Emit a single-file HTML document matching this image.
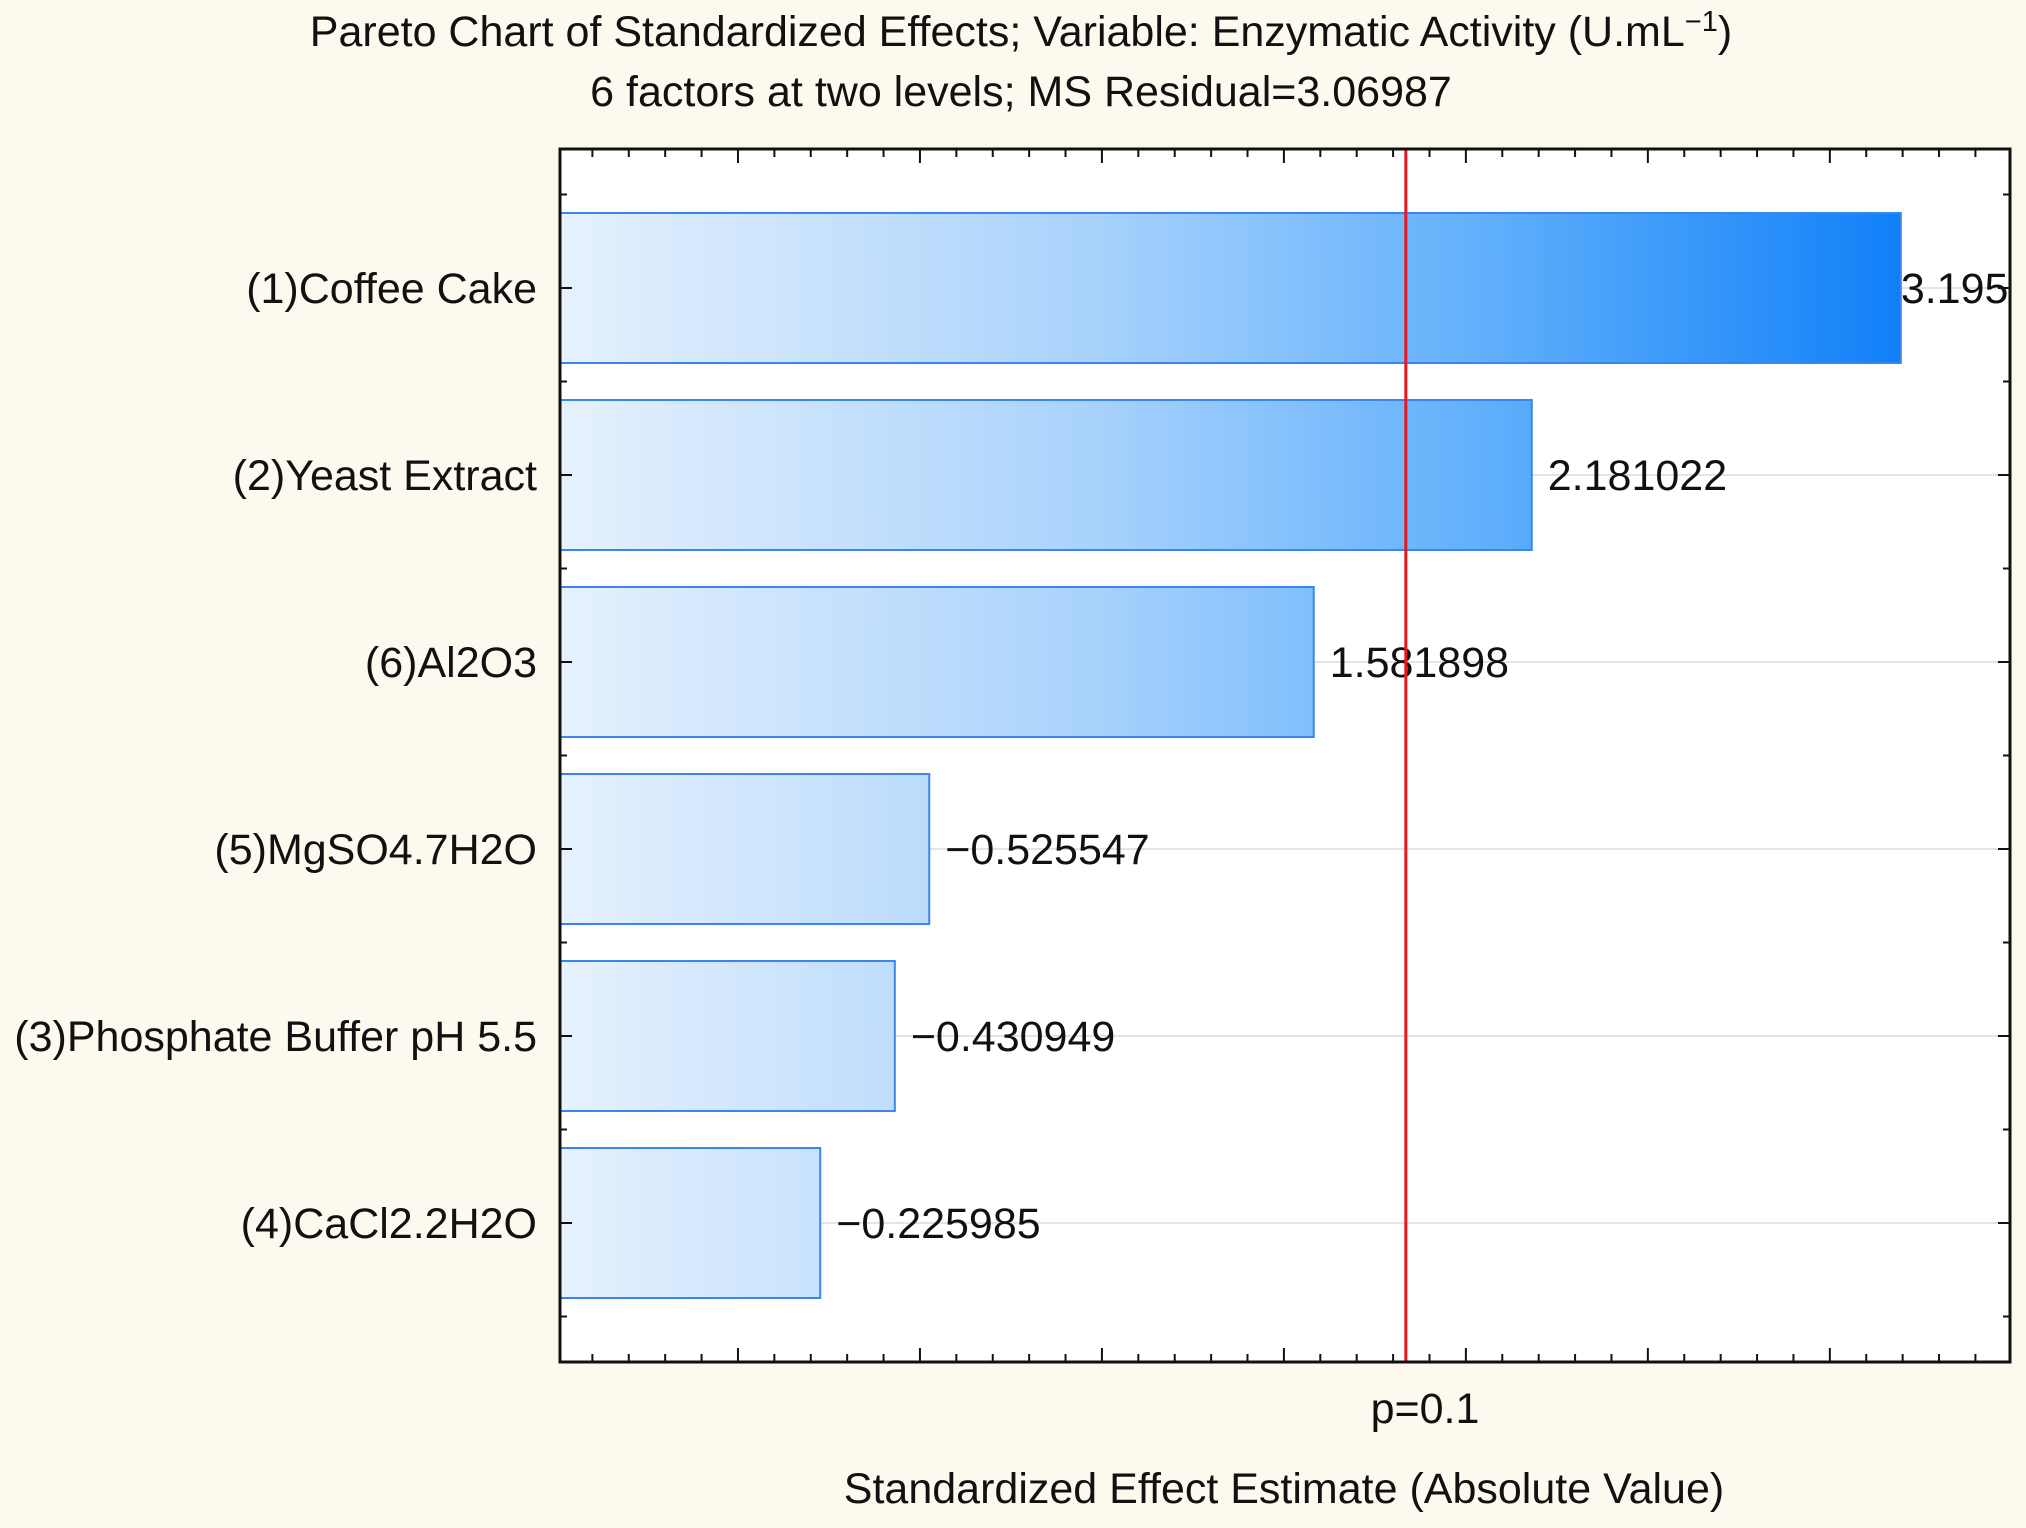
<!DOCTYPE html>
<html><head><meta charset="utf-8"><style>
html,body{margin:0;padding:0;background:#fdf9ee;}
svg{display:block;font-family:"Liberation Sans",Arial,sans-serif;}
</style></head><body>
<svg id="chart" width="2026" height="1528" viewBox="0 0 2026 1528">
<defs>
<linearGradient id="barGrad" gradientUnits="userSpaceOnUse" x1="560" y1="0" x2="1901" y2="0">
<stop offset="0" stop-color="#e6f1fd"/><stop offset="0.4" stop-color="#a8d2fc"/><stop offset="0.7" stop-color="#5eaefb"/><stop offset="1" stop-color="#1080f8"/>
</linearGradient>
</defs>
<rect x="0" y="0" width="2026" height="1528" fill="#fdf9ee"/>
<text x="1021" y="46" font-size="43" text-anchor="middle" fill="#111">Pareto Chart of Standardized Effects; Variable: Enzymatic Activity (U.mL<tspan dy="-15" font-size="29">−1</tspan><tspan dy="15">)</tspan></text>
<text x="1021" y="106" font-size="43" text-anchor="middle" fill="#111">6 factors at two levels; MS Residual=3.06987</text>
<rect x="560" y="149" width="1450" height="1213" fill="#fff"/>
<g id="grid"></g><g id="bars"></g><g id="ticks"></g>
<rect x="560" y="149" width="1450" height="1213" fill="none" stroke="#111" stroke-width="3"/>
<text x="1425" y="1423" font-size="43" text-anchor="middle" fill="#111">p=0.1</text>
<text x="1284" y="1503" font-size="43" text-anchor="middle" fill="#111">Standardized Effect Estimate (Absolute Value)</text>
</svg>
<script>
const categories=["(1)Coffee Cake","(2)Yeast Extract","(6)Al2O3","(5)MgSO4.7H2O","(3)Phosphate Buffer pH 5.5","(4)CaCl2.2H2O"];
const values=[3.195,2.181022,1.581898,-0.525547,-0.430949,-0.225985];
const valueLabels=["3.195","2.181022","1.581898","−0.525547","−0.430949","−0.225985"];
const pLine=1.835;
const xMin=-0.489,xMax=3.495;
const L=560,R=2010,T=149,B=1362;
function x(v){return L+(v-xMin)/(xMax-xMin)*(R-L);}
function yc(i){return 288+i*187;}
const NS="http://www.w3.org/2000/svg";
function mk(tag,attrs,parent){const e=document.createElementNS(NS,tag);for(const k in attrs)e.setAttribute(k,attrs[k]);parent.appendChild(e);return e;}
const grid=document.getElementById('grid'),bars=document.getElementById('bars'),ticks=document.getElementById('ticks');
categories.forEach((c,i)=>{
 const y=yc(i);
 const g=mk('line',{x1:L,x2:R,y1:y,y2:y,stroke:'#e4e4e4','stroke-width':2},grid);
 
 
 const w=x(Math.abs(values[i]))-L;
 const r=mk('rect',{x:L,y:y-75,width:w,height:150,fill:'url(#barGrad)',stroke:'#3b86ee','stroke-width':2},bars);
 
 
 const t=mk('text',{x:L+w+16,y:y+15,'font-size':43,fill:'#111'},bars);
 t.textContent=valueLabels[i];
 
 
 if(i===0){t.setAttribute('x',L+w);}
 const cl=mk('text',{x:537,y:y+15,'font-size':43,fill:'#111','text-anchor':'end'},bars);
 cl.textContent=c;
 
 
});
const rl=mk('line',{x1:x(pLine),x2:x(pLine),y1:T,y2:B,stroke:'#e8161c','stroke-width':3},bars);


for(let k=-4;k<=34;k++){
 const v=k/10;const xx=x(v);if(xx<L+2||xx>R-2)continue;
 const len=(k%5===0)?14:8;
 [[B,B-len],[T,T+len]].forEach(p=>{
  const tk=mk('line',{x1:xx,x2:xx,y1:p[0],y2:p[1],stroke:'#111','stroke-width':2},ticks);
  
  
 });
}
for(let i=0;i<=12;i++){
 const y=yc(0)-93.5+i*93.5;if(y<T+2||y>B-2)continue;
 const len=(i%2===1)?12:7;
 [[L,L+len],[R,R-len]].forEach(p=>{
  const tk=mk('line',{x1:p[0],x2:p[1],y1:y,y2:y,stroke:'#111','stroke-width':2},ticks);
  
  
 });
}
</script>
</body></html>
